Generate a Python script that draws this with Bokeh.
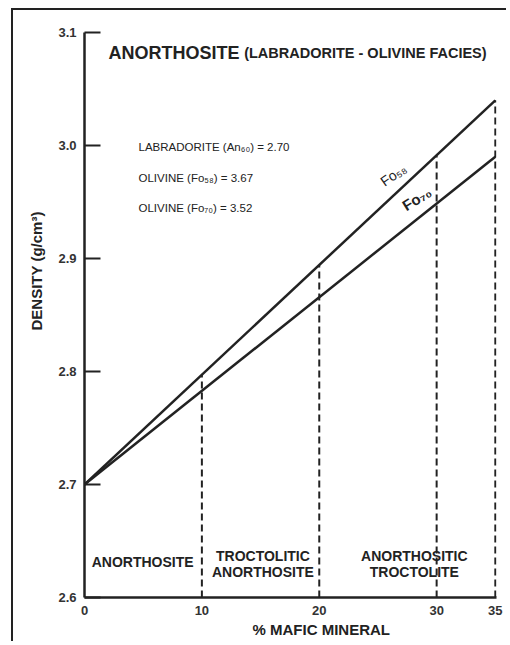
import math
from bokeh.plotting import figure
from bokeh.models import Range1d, FixedTicker, PrintfTickFormatter, Title
from bokeh.core.properties import value
from bokeh.embed import file_html
from bokeh.resources import INLINE

# ---- data ----
mafic_pct = [0, 35]
density_fo58 = [2.70, 3.04]
density_fo70 = [2.70, 2.99]

boundary_x = [10, 20, 30, 35]
boundary_top = [2.797, 2.894, 2.991, 3.04]

y_ticks = [2.6, 2.7, 2.8, 2.9, 3.0, 3.1]
x_ticks = [0, 10, 20, 30, 35]

legend_lines = ["LABRADORITE (An\u2086\u2080) = 2.70",
                "OLIVINE (Fo\u2085\u2088) = 3.67",
                "OLIVINE (Fo\u2087\u2080) = 3.52"]
legend_y = [2.999, 2.971, 2.945]
legend_x = 4.6

zone_text = ["ANORTHOSITE", "TROCTOLITIC", "ANORTHOSITE", "ANORTHOSITIC", "TROCTOLITE"]
zone_x = [4.95, 15.2, 15.2, 28.1, 28.1]
zone_y = [2.631, 2.637, 2.623, 2.637, 2.623]

FONT = "Liberation Sans"
INK = "#222222"

p = figure(width=495, height=633, output_backend="svg", toolbar_location=None,
           x_range=Range1d(0, 35.1), y_range=Range1d(2.6, 3.1),
           min_border_left=71, min_border_right=12, min_border_top=22, min_border_bottom=46)
p.outline_line_color = None
p.grid.grid_line_color = None
p.background_fill_color = "white"
p.border_fill_color = "white"
p.styles = {"border-left": "2px solid #222", "border-top": "2px solid #222",
            "margin-left": "11px", "margin-top": "8px"}

# axes
p.yaxis.ticker = FixedTicker(ticks=y_ticks)
p.yaxis.formatter = PrintfTickFormatter(format="%.1f")
p.yaxis.major_tick_in = 16
p.yaxis.major_tick_out = 0
p.yaxis.minor_tick_line_color = None
p.yaxis.axis_line_width = 2.5
p.yaxis.major_tick_line_width = 2
p.yaxis.axis_line_color = INK
p.yaxis.major_tick_line_color = INK
p.yaxis.major_label_standoff = 8

p.xaxis.ticker = FixedTicker(ticks=x_ticks)
p.xaxis.major_tick_in = 0
p.xaxis.major_tick_out = 0
p.xaxis.minor_tick_line_color = None
p.xaxis.axis_line_width = 2.5
p.xaxis.axis_line_color = INK
p.xaxis.major_label_standoff = 8

for ax in (p.xaxis, p.yaxis):
    ax.major_label_text_font = FONT
    ax.major_label_text_font_size = "13px"
    ax.major_label_text_font_style = "bold"
    ax.major_label_text_color = "#333333"

# lines
p.line(mafic_pct, density_fo58, line_width=2.5, line_color=INK)
p.line(mafic_pct, density_fo70, line_width=2.5, line_color=INK)

# dashed boundaries
p.segment(x0=boundary_x, y0=[2.6] * len(boundary_x), x1=boundary_x, y1=boundary_top,
          line_width=2, line_color=INK, line_dash="7 4")

# title
p.text(x=[2.05], y=[3.0815], text=["ANORTHOSITE"], text_font=value(FONT),
       text_font_size="18px", text_font_style="bold", text_color=INK,
       text_baseline="alphabetic", text_align="left")
p.text(x=[13.6], y=[3.0815], text=["(LABRADORITE - OLIVINE FACIES)"], text_font=value(FONT),
       text_font_size="14.5px", text_font_style="bold", text_color=INK,
       text_baseline="alphabetic", text_align="left")

# legend text
p.text(x=[legend_x] * 3, y=legend_y, text=legend_lines, text_font=value(FONT),
       text_font_size="11.5px", text_color=INK, text_baseline="middle", text_align="left")

# line labels
p.text(x=[26.3], y=[2.974], text=["Fo\u2085\u2088"], text_font=value(FONT),
       text_font_size="14px", text_color=INK, angle=math.radians(35),
       text_baseline="middle", text_align="center")
p.text(x=[28.3], y=[2.953], text=["Fo\u2087\u2080"], text_font=value(FONT),
       text_font_size="15px", text_font_style="bold", text_color=INK, angle=math.radians(32),
       text_baseline="middle", text_align="center")

# zone labels
p.text(x=zone_x, y=zone_y, text=zone_text, text_font=value(FONT),
       text_font_size="14px", text_font_style="bold", text_color=INK,
       text_baseline="middle", text_align="center")

# axis titles
p.add_layout(Title(text="DENSITY (g/cm\u00b3)", align="left", offset=267, standoff=22,
                   text_font=FONT, text_font_size="15px", text_font_style="bold",
                   text_color=INK), "left")
p.add_layout(Title(text="% MAFIC MINERAL", align="left", offset=168, standoff=3,
                   text_font=FONT, text_font_size="15px", text_font_style="bold",
                   text_color=INK), "below")

open("out.html", "w").write(file_html(p, INLINE))
